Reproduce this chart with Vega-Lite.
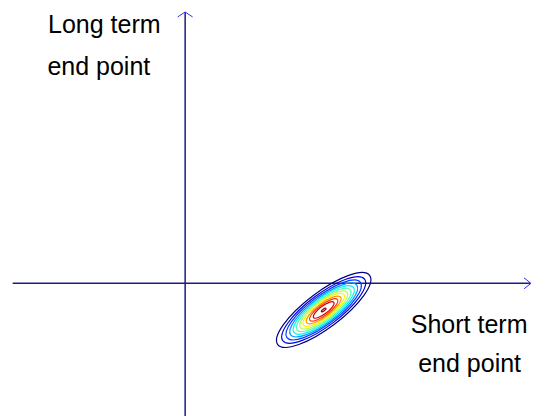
{
  "$schema": "https://vega.github.io/schema/vega-lite/v6.json",
  "width": 533,
  "height": 417,
  "padding": 0,
  "autosize": {"type": "fit", "contains": "padding"},
  "background": "white",
  "config": {"view": {"stroke": null}},
  "layer": [
    {
      "data": {"values": [{"x": -1.728, "x2": 3.455, "y": 0}]},
      "mark": {"type": "rule", "color": "#1c1c80", "strokeWidth": 1.5},
      "encoding": {
        "x": {"field": "x", "type": "quantitative", "scale": {"domain": [-1.855, 3.475], "nice": false, "zero": false}, "axis": null},
        "x2": {"field": "x2"},
        "y": {"field": "y", "type": "quantitative", "scale": {"domain": [-1.33, 2.84], "nice": false, "zero": false}, "axis": null}
      }
    },
    {
      "data": {"values": [{"x": 0, "y": -1.33, "y2": 2.72}]},
      "mark": {"type": "rule", "color": "#1c1c80", "strokeWidth": 1.5},
      "encoding": {
        "x": {"field": "x", "type": "quantitative", "scale": {"domain": [-1.855, 3.475], "nice": false, "zero": false}, "axis": null},
        "y": {"field": "y", "type": "quantitative", "scale": {"domain": [-1.33, 2.84], "nice": false, "zero": false}, "axis": null},
        "y2": {"field": "y2"}
      }
    },
    {
      "data": {"values": [{"x": 3.465, "y": 0, "dir": "right"}, {"x": 0, "y": 2.72, "dir": "up"}]},
      "mark": {"type": "point", "filled": false, "opacity": 1, "strokeWidth": 1, "color": "#3030ff", "size": 225},
      "encoding": {
        "x": {"field": "x", "type": "quantitative", "scale": {"domain": [-1.855, 3.475], "nice": false, "zero": false}, "axis": null},
        "y": {"field": "y", "type": "quantitative", "scale": {"domain": [-1.33, 2.84], "nice": false, "zero": false}, "axis": null},
        "shape": {"field": "dir", "type": "nominal", "scale": {"domain": ["right", "up"], "range": ["M -0.933 -0.733 L 0 0 L -0.933 0.733", "M -1 0.667 L 0 0 L 1 0.667"]}, "legend": null}
      }
    },
    {
      "data": {"values": [
        {"level": 1, "r": 2.248, "x": 1.388, "y": -0.267},
        {"level": 2, "r": 2.0, "x": 1.388, "y": -0.267},
        {"level": 3, "r": 1.798, "x": 1.388, "y": -0.267},
        {"level": 4, "r": 1.619, "x": 1.388, "y": -0.267},
        {"level": 5, "r": 1.461, "x": 1.388, "y": -0.267},
        {"level": 6, "r": 1.304, "x": 1.388, "y": -0.267},
        {"level": 7, "r": 1.146, "x": 1.388, "y": -0.267},
        {"level": 8, "r": 0.989, "x": 1.388, "y": -0.267},
        {"level": 9, "r": 0.832, "x": 1.388, "y": -0.267},
        {"level": 10, "r": 0.674, "x": 1.388, "y": -0.267},
        {"level": 11, "r": 0.495, "x": 1.388, "y": -0.267},
        {"level": 12, "r": 0.11, "x": 1.388, "y": -0.267}
      ]},
      "mark": {"type": "point", "filled": false, "opacity": 1, "strokeWidth": 1.2, "angle": 323, "shape": "M 1 0 C 1 0.1712 0.5523 0.31 0 0.31 C -0.5523 0.31 -1 0.1712 -1 0 C -1 -0.1712 -0.5523 -0.31 0 -0.31 C 0.5523 -0.31 1 -0.1712 1 0 Z"},
      "encoding": {
        "x": {"field": "x", "type": "quantitative", "scale": {"domain": [-1.855, 3.475], "nice": false, "zero": false}, "axis": null},
        "y": {"field": "y", "type": "quantitative", "scale": {"domain": [-1.33, 2.84], "nice": false, "zero": false}, "axis": null},
        "size": {"field": "r", "type": "quantitative", "scale": {"type": "pow", "exponent": 2, "domain": [0, 2.248], "range": [0, 13225]}, "legend": null},
        "color": {"field": "level", "type": "ordinal", "scale": {"range": ["#000080", "#0000DC", "#003AFF", "#0097FF", "#00F3FF", "#51FFAE", "#AEFF51", "#FFF300", "#FF9700", "#FF3A00", "#DC0000", "#800000"]}, "legend": null}
      }
    },
    {
      "data": {"values": [
        {"x": -0.81, "y": 2.507, "label": "Long term"},
        {"x": -0.865, "y": 2.09, "label": "end point"},
        {"x": 2.845, "y": -0.5, "label": "Short term"},
        {"x": 2.85, "y": -0.893, "label": "end point"}
      ]},
      "mark": {"type": "text", "font": "Liberation Sans", "fontSize": 25, "color": "black", "align": "center", "baseline": "alphabetic"},
      "encoding": {
        "x": {"field": "x", "type": "quantitative", "scale": {"domain": [-1.855, 3.475], "nice": false, "zero": false}, "axis": null},
        "y": {"field": "y", "type": "quantitative", "scale": {"domain": [-1.33, 2.84], "nice": false, "zero": false}, "axis": null},
        "text": {"field": "label", "type": "nominal"}
      }
    }
  ]
}
